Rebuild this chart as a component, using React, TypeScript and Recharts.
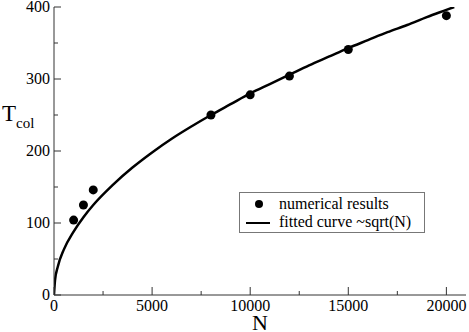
import { ComposedChart, Line, Scatter, XAxis, YAxis, Label } from 'recharts'

const numericalN = [1000, 1500, 2000, 8000, 10000, 12000, 15000, 20000]
const numericalT = [104, 125, 146, 250, 278, 304, 341, 388]

// fitted curve
const fitN = [0, 50, 200, 500, 1000, 1500, 2000, 3000, 4000, 5000, 6000, 7000, 8000, 9000, 10000, 11000, 12000, 13000, 14000, 15000, 16000, 17000, 18000, 19000, 20000, 20400]
const fitT = [0, 20, 40, 63, 88, 108, 125, 153, 177, 198, 217, 234, 250, 265, 280, 293, 306, 319, 331, 343, 354, 365, 375, 386, 396, 400]

const xTicks = [0, 2500, 5000, 7500, 10000, 12500, 15000, 17500, 20000]
const yTicks = [0, 50, 100, 150, 200, 250, 300, 350, 400]

const points = numericalN.map((n, i) => ({ n, t: numericalT[i] }))
const curve = fitN.map((n, i) => ({ n, t: fitT[i] }))

const SERIF = {
  fontFamily: "Times, 'Times New Roman', 'Liberation Serif', Tinos, 'Noto Serif', 'DejaVu Serif', serif",
}
const AXIS = '#333'

const BottomTick = (props: any) => {
  const { x, y, payload } = props
  const major = payload.value % 5000 === 0
  return (
    <g>
      <line x1={x} x2={x} y1={y} y2={y - (major ? 8 : 4)} stroke={AXIS} />
      {major && (
        <text x={x} y={y + 16} textAnchor="middle" fontSize={16} style={SERIF} fill="#000">
          {payload.value}
        </text>
      )}
    </g>
  )
}

const TopTick = (props: any) => {
  const { x, y, payload } = props
  const major = payload.value % 5000 === 0
  return <line x1={x} x2={x} y1={y} y2={y + (major ? 8 : 4)} stroke={AXIS} />
}

const LeftTick = (props: any) => {
  const { x, y, payload } = props
  const major = payload.value % 100 === 0
  return (
    <g>
      <line x1={x} x2={x + (major ? 7 : 4)} y1={y} y2={y} stroke={AXIS} />
      {major && (
        <text x={x - 4} y={y + 5} textAnchor="end" fontSize={16} style={SERIF} fill="#000">
          {payload.value}
        </text>
      )}
    </g>
  )
}

const RightTick = (props: any) => {
  const { x, y, payload } = props
  const major = payload.value % 100 === 0
  return <line x1={x} x2={x - (major ? 7 : 4)} y1={y} y2={y} stroke={AXIS} />
}

const Dot = (props: any) => <circle cx={props.cx} cy={props.cy} r={4.5} fill="#000" />

export default function App() {
  return (
    <div style={{ position: 'absolute', left: 0, top: 0, width: 469, height: 332, background: '#fff' }}>
      <ComposedChart width={469} height={332} margin={{ top: 7, right: 3, bottom: 0, left: 0 }}>
        <XAxis
          dataKey="n"
          type="number"
          domain={[0, 21000]}
          ticks={xTicks}
          interval={0}
          allowDataOverflow
          height={37}
          tickSize={0}
          tickMargin={0}
          tick={<BottomTick />}
          axisLine={{ stroke: AXIS }}
        >
          <Label
            content={(p: any) => (
              <text
                x={p.viewBox.x + p.viewBox.width / 2}
                y={p.viewBox.y + p.viewBox.height - 2}
                textAnchor="middle"
                fontSize={22}
                style={SERIF}
              >
                N
              </text>
            )}
          />
        </XAxis>
        <XAxis
          xAxisId="top"
          orientation="top"
          dataKey="n"
          type="number"
          domain={[0, 21000]}
          ticks={xTicks}
          interval={0}
          height={0}
          tickSize={0}
          tickMargin={0}
          tick={<TopTick />}
          axisLine={{ stroke: AXIS }}
        />
        <YAxis
          dataKey="t"
          type="number"
          domain={[0, 400]}
          ticks={yTicks}
          interval={0}
          allowDataOverflow
          width={54}
          tickSize={0}
          tickMargin={0}
          tick={<LeftTick />}
          axisLine={{ stroke: AXIS }}
        >
          <Label
            content={(p: any) => (
              <text x={p.viewBox.x + 2} y={p.viewBox.y + p.viewBox.height / 2 - 30} style={SERIF}>
                <tspan fontSize={23}>T</tspan>
                <tspan fontSize={15} dy={7}>col</tspan>
              </text>
            )}
          />
        </YAxis>
        <YAxis
          yAxisId="right"
          orientation="right"
          dataKey="t"
          type="number"
          domain={[0, 400]}
          ticks={yTicks}
          interval={0}
          width={0}
          tickSize={0}
          tickMargin={0}
          tick={<RightTick />}
          axisLine={{ stroke: AXIS }}
        />
        <Line
          data={curve}
          dataKey="t"
          type="monotone"
          stroke="#000"
          strokeWidth={2.5}
          dot={false}
          isAnimationActive={false}
        />
        <Scatter data={points} dataKey="t" shape={<Dot />} isAnimationActive={false} />
      </ComposedChart>
      <div
        style={{
          position: 'absolute',
          left: 239,
          top: 192,
          width: 184,
          height: 39,
          border: '1px solid #777',
          background: '#fff',
        }}
      >
        <svg width={184} height={39} style={{ display: 'block' }}>
          <circle cx={19} cy={11} r={4} fill="#000" />
          <text x={39} y={16} fontSize={16} style={SERIF}>numerical results</text>
          <line x1={6} x2={30} y1={30} y2={30} stroke="#000" strokeWidth={2} />
          <text x={39} y={34} fontSize={16} style={SERIF}>fitted curve ~sqrt(N)</text>
        </svg>
      </div>
    </div>
  )
}
